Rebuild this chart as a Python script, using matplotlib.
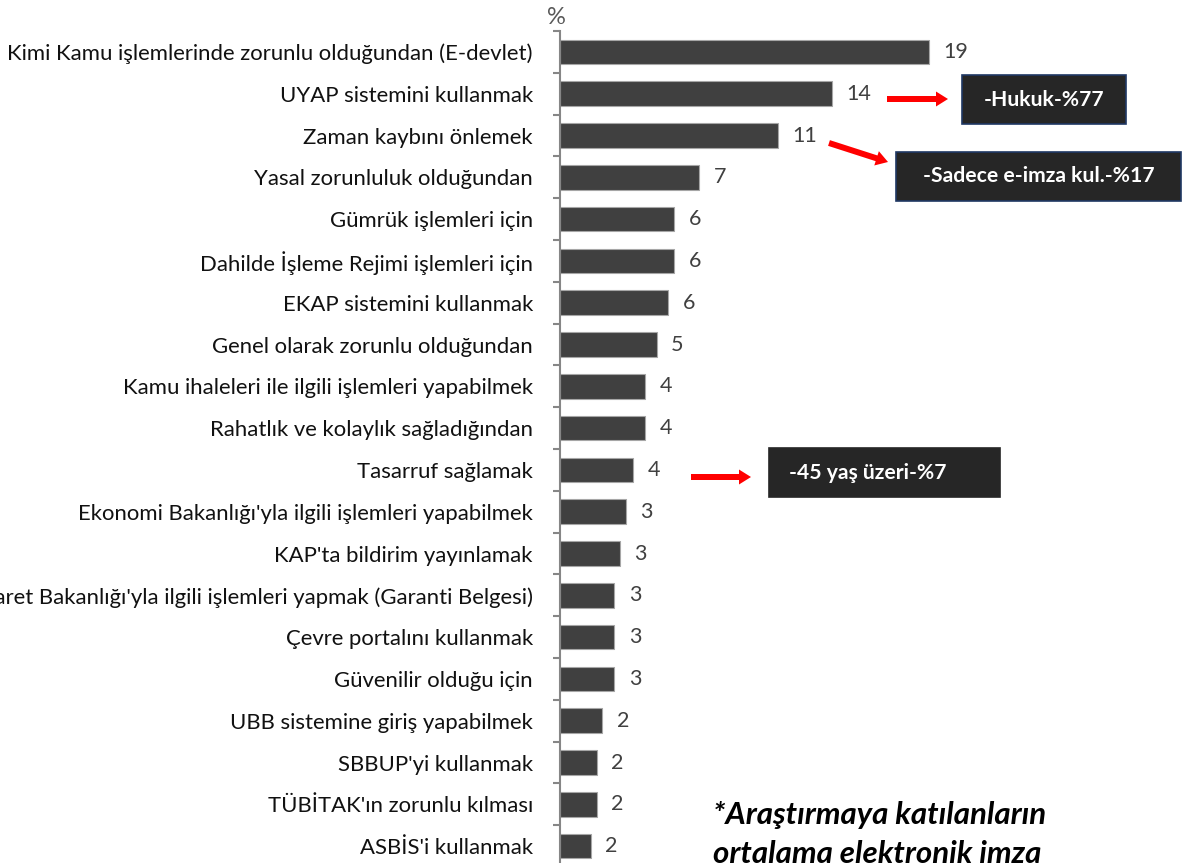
import matplotlib
matplotlib.use("Agg")
import matplotlib.pyplot as plt
from matplotlib.patches import Rectangle, FancyArrow
from matplotlib.transforms import Affine2D

W, H = 1189, 863

categories = [
    "Kimi Kamu işlemlerinde zorunlu olduğundan (E-devlet)",
    "UYAP sistemini kullanmak",
    "Zaman kaybını önlemek",
    "Yasal zorunluluk olduğundan",
    "Gümrük işlemleri için",
    "Dahilde İşleme Rejimi işlemleri için",
    "EKAP sistemini kullanmak",
    "Genel olarak zorunlu olduğundan",
    "Kamu ihaleleri ile ilgili işlemleri yapabilmek",
    "Rahatlık ve kolaylık sağladığından",
    "Tasarruf sağlamak",
    "Ekonomi Bakanlığı'yla ilgili işlemleri yapabilmek",
    "KAP'ta bildirim yayınlamak",
    "Gümrük ve Ticaret Bakanlığı'yla ilgili işlemleri yapmak (Garanti Belgesi)",
    "Çevre portalını kullanmak",
    "Güvenilir olduğu için",
    "UBB sistemine giriş yapabilmek",
    "SBBUP'yi kullanmak",
    "TÜBİTAK'ın zorunlu kılması",
    "ASBİS'i kullanmak",
]
values = [19.1, 14.1, 11.3, 7.2, 5.9, 5.9, 5.6, 5.0, 4.4, 4.4,
          3.8, 3.4, 3.1, 2.8, 2.8, 2.8, 2.2, 1.9, 1.9, 1.6]

callout_texts = ["-Hukuk-%77", "-Sadece e-imza kul.-%17", "-45 yaş üzeri-%7"]
footnote_lines = ["*Araştırmaya katılanların", "ortalama elektronik imza"]

plt.rcParams['font.family'] = ['Lato', 'DejaVu Sans']

fig = plt.figure(figsize=(W / 100, H / 100), dpi=100)
fig.patch.set_facecolor("white")

ax_left = 560 / W
ax_top = 31 / H
ax_bottom = 867 / H
ax = fig.add_axes([ax_left, 1 - ax_bottom, 1 - ax_left, ax_bottom - ax_top])

n = len(categories)
ypos = list(range(n))
ax.barh(ypos, values, height=0.586, color="#404040", edgecolor="#a6a6a6",
        linewidth=0.8)
ax.set_ylim(n - 0.5, -0.5)
ax.set_xlim(0, (W - 560) / 19.3)

for y, v in zip(ypos, values):
    ax.annotate(f"{v:.0f}", xy=(v, y), xytext=(10.5, 0), textcoords="offset points",
                va="center", ha="left", fontsize=15.5, color="#404040")

ax.set_yticks(ypos)
ax.set_yticklabels(categories, fontsize=15.9, color="#111111")
ax.tick_params(axis="y", which="major", length=0, pad=19.5)
ax.set_yticks([k - 0.5 for k in range(n + 1)], minor=True)
ax.tick_params(axis="y", which="minor", length=5, width=1.5, color="#868686")
ax.xaxis.set_visible(False)
for s in ["top", "right", "bottom"]:
    ax.spines[s].set_visible(False)
ax.spines["left"].set_color("#868686")
ax.spines["left"].set_linewidth(1.5)

# pixel transform (top-left origin)
pix = Affine2D().scale(1 / W, -1 / H).translate(0, 1) + fig.transFigure

fig.text(556, 18, "%", transform=pix, ha="center", va="center",
         fontsize=17, color="#595959")

# callout boxes
boxes = [
    (962, 75, 164, 49, callout_texts[0], "center", "#1F3864"),
    (896, 152, 285, 49, callout_texts[1], "center", "#1F3864"),
    (769, 448, 231, 49, callout_texts[2], "left", "#262626"),
]
for x, y, w, h, t, align, ec in boxes:
    fig.add_artist(Rectangle((x, y), w, h, transform=pix, facecolor="#262626",
                             edgecolor=ec, linewidth=1.2))
    if align == "center":
        fig.text(x + w / 2, y + h / 2, t, transform=pix, ha="center",
                 va="center", fontsize=15.2, fontweight="bold", color="white")
    else:
        fig.text(x + 20, y + h / 2, t, transform=pix, ha="left",
                 va="center", fontsize=15.2, fontweight="bold", color="white")

arrows = [
    (887, 99, 948, 99),
    (829, 143, 888, 162),
    (691, 477, 751, 477),
]
for x0, y0, x1, y1 in arrows:
    fig.add_artist(FancyArrow(x0, y0, x1 - x0, y1 - y0, width=6, head_width=15,
                              head_length=12, length_includes_head=True,
                              transform=pix, color="#FF0000", linewidth=0))

for i, line in enumerate(footnote_lines):
    fig.text(713, 815 + i * 39, line, transform=pix, ha="left", va="center",
             fontsize=22.5, fontweight="bold", style="italic", color="black")

fig.savefig("out.png", dpi=100, facecolor="white")
